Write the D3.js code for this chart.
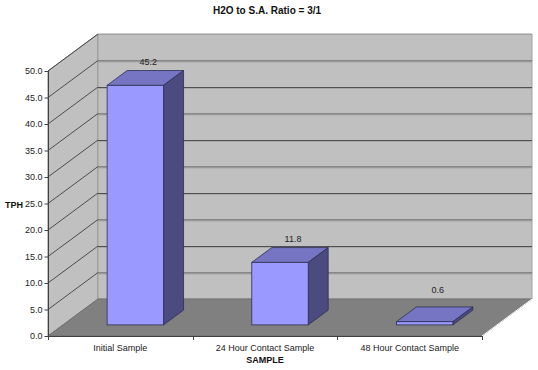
<!DOCTYPE html>
<html><head><meta charset="utf-8">
<script src="https://cdn.jsdelivr.net/npm/d3@7"></script>
<style>
html,body{margin:0;padding:0;background:#fff;}
svg{display:block;font-family:"Liberation Sans",Arial,sans-serif;}
</style></head>
<body><svg id="chart" width="538" height="370"></svg>
<script>
const categories = ["Initial Sample", "24 Hour Contact Sample", "48 Hour Contact Sample"];
const values = [45.2, 11.8, 0.6];
const valueLabels = ["45.2", "11.8", "0.6"];
const yTicks = [0, 5, 10, 15, 20, 25, 30, 35, 40, 45, 50];
const title = "H2O to S.A. Ratio = 3/1";
const yTitle = "TPH";
const xTitle = "SAMPLE";

const svg = d3.select("#chart");
const X0 = 48, X1 = 482, DX = 50, DY = -37;
const x = d3.scaleBand().domain(categories).range([X0, X1]);
const y = d3.scaleLinear().domain([0, 50]).range([336, 71]);

const pts = a => a.map(p => p.join(",")).join(" ");
const wall = "#c0c0c0", floor = "#808080", edge = "#808080";

// left wall
svg.append("polygon").attr("points", pts([[X0,y(0)],[X0,y(50)],[X0+DX,y(50)+DY],[X0+DX,y(0)+DY]]))
  .attr("fill", wall).attr("stroke", edge).attr("stroke-width", 1);
// back wall
svg.append("polygon").attr("points", pts([[X0+DX,y(50)+DY],[X1+DX,y(50)+DY],[X1+DX,y(0)+DY],[X0+DX,y(0)+DY]]))
  .attr("fill", wall).attr("stroke", "#a0a0a0").attr("stroke-width", 1);
// floor
svg.append("polygon").attr("points", pts([[X0,y(0)],[X1,y(0)],[X1+DX,y(0)+DY],[X0+DX,y(0)+DY]]))
  .attr("fill", floor).attr("stroke", "#707070").attr("stroke-width", 1);

// gridlines
const gridTicks = yTicks.filter(t => t > 0 && t < 50);
svg.append("g").selectAll("line.gb").data(gridTicks).join("line")
  .attr("x1", X0+DX).attr("x2", X1+DX)
  .attr("y1", d => y(d)+DY+0.5).attr("y2", d => y(d)+DY+0.5)
  .attr("stroke", "#505050").attr("stroke-width", 1);
svg.append("g").selectAll("line.gs").data(gridTicks).join("line")
  .attr("x1", X0+DX).attr("x2", X1+DX)
  .attr("y1", d => y(d)+DY+1.5).attr("y2", d => y(d)+DY+1.5)
  .attr("stroke", "#a8a8a8").attr("stroke-width", 1);
svg.append("line").attr("x1", X0+DX).attr("x2", X1+DX).attr("y1", y(50)+DY+0.5).attr("y2", y(50)+DY+0.5)
  .attr("stroke", "#a0a0a0");
svg.append("g").selectAll("line.gd").data(yTicks.filter(t => t > 0)).join("line")
  .attr("x1", X0).attr("y1", d => y(d))
  .attr("x2", X0+DX).attr("y2", d => y(d)+DY)
  .attr("stroke", "#404040").attr("stroke-width", 0.9);

// bars
const fz = 0.3, bz = 0.7;
const bw = x.bandwidth() * 0.39;
const bars = svg.append("g").selectAll("g").data(categories.map((c, i) => ({c, v: values[i], l: valueLabels[i]}))).join("g");
bars.each(function(d) {
  const g = d3.select(this);
  const cx = x(d.c) + x.bandwidth()/2;
  const fx = DX*fz, fy = DY*fz, bx = DX*bz, by = DY*bz;
  const l = cx - bw/2 + fx, r = cx + bw/2 + fx;
  const b = y(0) + fy, t = y(d.v) + fy;
  const ddx = bx - fx, ddy = by - fy;
  g.append("polygon").attr("points", pts([[l,t],[l+ddx,t+ddy],[r+ddx,t+ddy],[r,t]]))
    .attr("fill", "#7575c4").attr("stroke", "#2e2e52").attr("stroke-width", 0.8).attr("stroke-linejoin", "round");
  g.append("polygon").attr("points", pts([[r,t],[r+ddx,t+ddy],[r+ddx,b+ddy],[r,b]]))
    .attr("fill", "#4b4b80").attr("stroke", "#2e2e52").attr("stroke-width", 0.8).attr("stroke-linejoin", "round");
  g.append("rect").attr("x", l).attr("y", t).attr("width", r-l).attr("height", b-t)
    .attr("fill", "#9999ff").attr("stroke", "#2e2e52").attr("stroke-width", 0.8);
  const ly = Math.min(y(d.v) + DY + 5.5, y(0) + DY - 6.5);
  g.append("text").attr("x", cx + 28).attr("y", ly).attr("text-anchor", "middle")
    .attr("font-size", "9px").attr("fill", "#222").text(d.l);
});

// value axis
svg.append("line").attr("x1", X0+0.5).attr("x2", X0+0.5).attr("y1", y(50)).attr("y2", y(0)).attr("stroke", "#404040");
svg.append("line").attr("x1", X0).attr("x2", X1).attr("y1", y(0)+0.5).attr("y2", y(0)+0.5).attr("stroke", "#404040");
svg.append("line").attr("x1", X1).attr("x2", X1+DX).attr("y1", y(0)).attr("y2", y(0)+DY).attr("stroke", "#ffffff");
const yAxis = svg.append("g").attr("transform", `translate(${X0+0.5},0)`)
  .call(d3.axisLeft(y).tickValues(yTicks).tickFormat(d3.format(".1f")).tickSize(4).tickPadding(2));
yAxis.select(".domain").remove();
yAxis.selectAll("line").attr("stroke", "#404040");
yAxis.selectAll("text").attr("font-size", "9px").attr("fill", "#222").attr("font-family", "Liberation Sans, Arial, sans-serif");

// category axis
const xAxis = svg.append("g").attr("transform", `translate(0,${y(0)+0.5})`)
  .call(d3.axisBottom(x).tickSize(0).tickPadding(8));
xAxis.select(".domain").remove();
xAxis.selectAll("text").attr("font-size", "9px").attr("fill", "#222").attr("font-family", "Liberation Sans, Arial, sans-serif");
const edges = [X0, ...categories.map(c => x(c) + x.bandwidth())];
svg.append("g").selectAll("line").data(edges).join("line")
  .attr("x1", d => Math.round(d)+0.5).attr("x2", d => Math.round(d)+0.5)
  .attr("y1", y(0)).attr("y2", y(0)+4).attr("stroke", "#404040");

// titles
svg.append("text").attr("x", 267).attr("y", 14).attr("text-anchor", "middle")
  .attr("font-size", "10px").attr("font-weight", "bold").attr("fill", "#111").text(title);
svg.append("text").attr("x", 14).attr("y", 208).attr("text-anchor", "middle")
  .attr("font-size", "9px").attr("font-weight", "bold").attr("fill", "#111").text(yTitle);
svg.append("text").attr("x", (X0+X1)/2).attr("y", 363).attr("text-anchor", "middle")
  .attr("font-size", "9px").attr("font-weight", "bold").attr("fill", "#111").text(xTitle);
</script></body></html>
